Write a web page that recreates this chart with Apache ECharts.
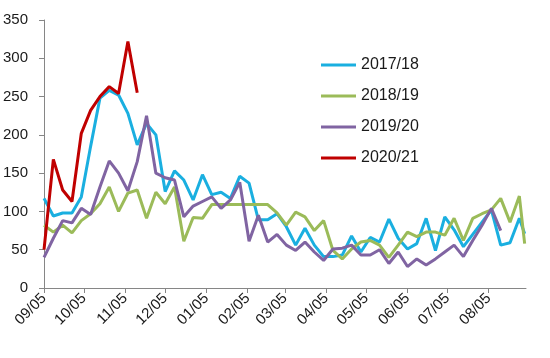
<!DOCTYPE html>
<html>
<head>
<meta charset="utf-8">
<script src="https://cdn.jsdelivr.net/npm/echarts@6/dist/echarts.min.js"></script>
<style>
html,body{margin:0;padding:0;background:#fff;}
#chart{width:550px;height:358px;}
</style>
</head>
<body>
<div id="chart"></div>
<script>
// Days since 09/05 at which the monthly tick labels sit
const tickDays = [0, 30, 61, 91, 122, 153, 181, 212, 242, 273, 303, 334];
const tickLabels = ['09/05','10/05','11/05','12/05','01/05','02/05','03/05','04/05','05/05','06/05','07/05','08/05'];

// Weekly observation dates (days since 09/05)
const fullDays = [0,7,14,21,28,35,42,49,56,63,70,77,84,91,98,105,112,119,126,133,140,147,154,161,168,175,182,189,196,203,210,217,224,231,238,245,252,259,266,273,280,287,294,301,308,315,322,329,336,343,350,357,361];
const days1920 = [0,7,14,21,28,35,42,49,56,63,70,77,84,91,98,105,112,119,126,133,140,147,154,161,168,175,182,189,196,203,210,217,224,231,238,245,252,259,266,273,280,287,294,301,308,315,322,329,336,343];
const days2021 = [0,7,14,21,28,35,42,49,56,63,70];

const s1718 = [117,94,98,98,119,185,248,258,252,228,187,215,200,126,153,141,115,148,122,125,117,146,137,89,89,97,80,56,78,56,41,41,43,68,47,66,60,90,65,51,58,91,49,93,76,54,70,86,102,56,59,91,71];
const s1819 = [82,73,82,72,88,97,110,132,100,124,128,91,125,110,132,61,92,91,109,109,109,109,109,109,109,98,82,99,93,75,88,49,38,51,60,62,56,40,56,73,67,73,73,69,91,62,91,97,102,117,86,120,58];
const s1920 = [40,65,88,85,104,96,132,166,150,127,165,225,150,144,141,93,107,113,119,104,115,138,61,95,60,70,56,49,60,47,36,51,52,56,43,43,50,32,47,28,38,30,38,47,56,41,62,82,104,75];
const s2021 = [50,168,128,113,202,232,250,263,254,322,255];

const seriesNames = ['2017/18','2018/19','2019/20','2020/21'];
const seriesColors = ['#1AAFE0','#9BBB59','#8064A2','#C00000'];

function pairs(d, v){ return v.map((y,i)=>[d[i], y]); }

const chart = echarts.init(document.getElementById('chart'), null, {renderer:'canvas'});
const fontFam = 'Liberation Sans, Arial, sans-serif';
const dataSets = [pairs(fullDays,s1718), pairs(fullDays,s1819), pairs(days1920,s1920), pairs(days2021,s2021)];

chart.setOption({
  animation:false,
  backgroundColor:'#fff',
  grid:{left:44, right:24, top:20, bottom:70, containLabel:false},
  legend:{
    orient:'vertical', left:321, top:57, padding:0,
    itemWidth:35, itemHeight:3, itemGap:15,
    textStyle:{fontSize:16, lineHeight:16, color:'#1a1a1a', fontFamily:fontFam},
    data:seriesNames.map(n=>({name:n, icon:'rect'}))
  },
  xAxis:{
    type:'value', min:0, max:362,
    axisLine:{show:true, lineStyle:{color:'#868686', width:1}},
    axisTick:{show:true, customValues:tickDays, length:5, lineStyle:{color:'#868686'}},
    axisLabel:{customValues:tickDays, rotate:45, margin:8, fontSize:15, color:'#1a1a1a', fontFamily:fontFam,
      formatter:(v)=>{const i=tickDays.indexOf(v); return i>=0?tickLabels[i]:'';}},
    splitLine:{show:false}
  },
  yAxis:{
    type:'value', min:0, max:350, interval:50,
    axisLine:{show:true, lineStyle:{color:'#868686', width:1}},
    axisTick:{show:true, length:5, lineStyle:{color:'#868686'}},
    axisLabel:{fontSize:15, color:'#1a1a1a', margin:16, fontFamily:fontFam},
    splitLine:{show:false}
  },
  series: seriesNames.map((n,k)=>({
    name:n, type:'line', symbol:'none', data:dataSets[k],
    lineStyle:{width:3, color:seriesColors[k]}, itemStyle:{color:seriesColors[k]},
    z:2+k
  }))
});
</script>
</body>
</html>
